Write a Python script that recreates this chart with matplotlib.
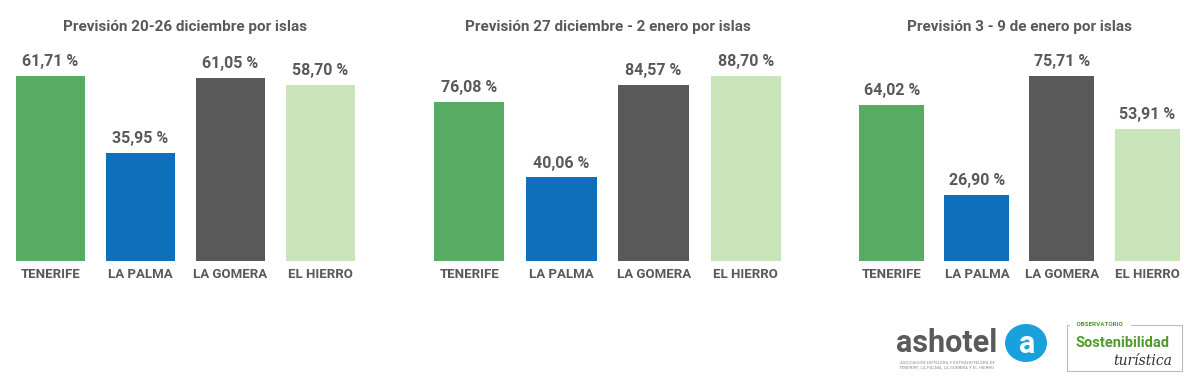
import matplotlib
matplotlib.use("Agg")
import matplotlib.pyplot as plt
from matplotlib.patches import Ellipse, Rectangle

plt.rcParams['font.family'] = ['Roboto', 'DejaVu Sans']

islands = ["TENERIFE", "LA PALMA", "LA GOMERA", "EL HIERRO"]
colors = ["#57AB63", "#0E6FBA", "#595959", "#C8E4B8"]

titles = ["Previsión 20-26 diciembre por islas",
          "Previsión 27 diciembre - 2 enero por islas",
          "Previsión 3 - 9 de enero por islas"]
week1 = [61.71, 35.95, 61.05, 58.70]
week2 = [76.08, 40.06, 84.57, 88.70]
week3 = [64.02, 26.90, 75.71, 53.91]
series = [week1, week2, week3]

# axes boxes in pixels: left, width, bar width as fraction of slot
W, H = 1200, 392
panels = [(5.4, 360.0, 0.772), (423.1, 368.8, 0.765), (849.2, 340.4, 0.764)]
bottom_px, top_px = 261, 76
text_col = "#595959"

fig = plt.figure(figsize=(W / 100, H / 100), dpi=100)
fig.patch.set_facecolor("white")

for (left, width, bw), vals, title in zip(panels, series, titles):
    ax = fig.add_axes([left / W, (H - bottom_px) / H, width / W, (bottom_px - top_px) / H])
    x = list(range(len(islands)))
    ax.bar(x, vals, width=bw, color=colors)
    ax.set_xlim(-0.5, 3.5)
    ax.set_ylim(0, max(vals))
    for xi, v in zip(x, vals):
        ax.annotate(f"{v:.2f} %".replace(".", ","), (xi, v), xytext=(0, 5),
                    textcoords="offset points", ha="center", va="bottom",
                    fontsize=11.5, fontweight="bold", color=text_col,
                    annotation_clip=False)
    ax.set_xticks(x)
    ax.set_xticklabels(islands, fontsize=9.5, fontweight="bold", color=text_col)
    ax.tick_params(axis="x", length=0, pad=5)
    ax.set_yticks([])
    for s in ax.spines.values():
        s.set_visible(False)
    fig.text((left + width / 2) / W, (H - 27) / H, title, ha="center",
             va="center", fontsize=11, fontweight="bold", color=text_col)

# logos (approximated with text and shapes)
fig.text(947 / W, (H - 343) / H, "ashotel", ha="center", va="center",
         fontsize=22, fontweight="bold", color="#5a5a5a")
fig.text(947 / W, (H - 365) / H, "ASOCIACIÓN HOTELERA Y EXTRAHOTELERA DE\nTENERIFE, LA PALMA, LA GOMERA Y EL HIERRO",
         ha="center", va="center", fontsize=3.2, color="#888888", linespacing=1.3)
blob = Ellipse((1026 / W, (H - 343) / H), 42 / W, 38 / H,
               transform=fig.transFigure, facecolor="#1AA0DC", edgecolor="none")
fig.patches.append(blob)
fig.text(1027 / W, (H - 344) / H, "a", ha="center", va="center",
         fontsize=22, fontweight="bold", color="white")

box = Rectangle((1067 / W, (H - 371) / H), 115 / W, 46 / H, transform=fig.transFigure,
                facecolor="none", edgecolor="#bbbbbb", linewidth=0.8)
fig.patches.append(box)
fig.text(1100 / W, (H - 325) / H, " OBSERVATORIO ", ha="center", va="center",
         fontsize=4.5, fontweight="bold", color="#4E9A2A", backgroundcolor="white")
fig.text(1123 / W, (H - 343) / H, "Sostenibilidad", ha="center", va="center",
         fontsize=10.5, fontweight="bold", color="#4E9A2A")
fig.text(1172 / W, (H - 361) / H, "turística", ha="right", va="center",
         fontsize=10, style="italic", family="DejaVu Serif", color="#333333")

fig.savefig("out.png", dpi=100, facecolor="white")
